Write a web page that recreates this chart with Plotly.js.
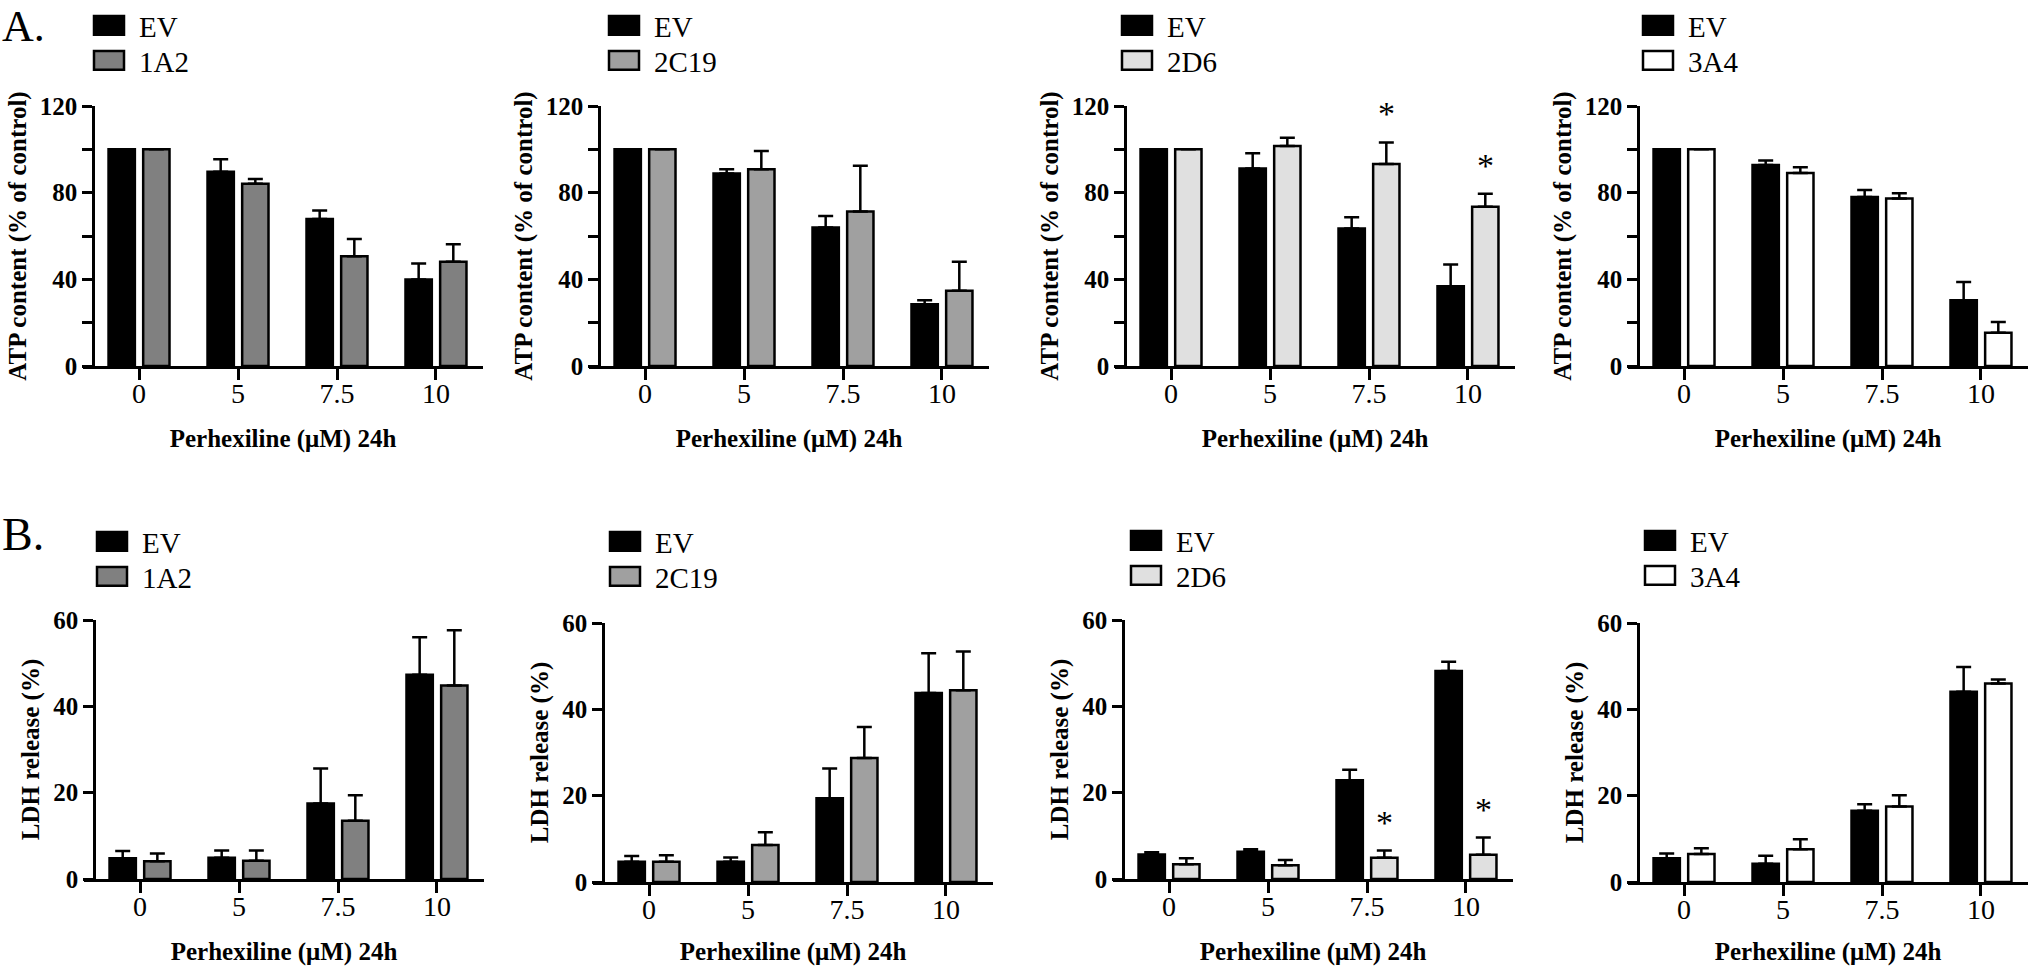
<!DOCTYPE html>
<html>
<head>
<meta charset="utf-8">
<script src="https://cdn.plot.ly/plotly-3.0.1.min.js"></script>
<style>html,body{margin:0;padding:0;background:#fff;}#chart{width:2029px;height:966px;}</style>
</head>
<body>
<div id="chart"></div>
<script>
// ---------- DATA ----------
const doses = ['0', '5', '7.5', '10'];
const isoforms = ['1A2', '2C19', '2D6', '3A4'];

// ATP content (% of control)
const atpEV_1A2   = [100, 89.7, 67.8, 39.9];
const atpEV_1A2Sd = [0, 5.7, 4.0, 7.4];
const atp1A2      = [100, 84.1, 50.7, 48.1];
const atp1A2Sd    = [0, 2.2, 7.9, 8.1];

const atpEV_2C19   = [100, 88.8, 63.9, 28.5];
const atpEV_2C19Sd = [0, 2.0, 5.3, 1.9];
const atp2C19      = [100, 90.8, 71.3, 34.7];
const atp2C19Sd    = [0, 8.4, 21.1, 13.4];

const atpEV_2D6   = [100, 91.1, 63.5, 36.8];
const atpEV_2D6Sd = [0, 7.1, 5.2, 10.0];
const atp2D6      = [100, 101.5, 93.2, 73.5];
const atp2D6Sd    = [0, 3.9, 10.0, 6.0];
const atp2D6Sig   = [false, false, true, true];

const atpEV_3A4   = [100, 92.8, 78.0, 30.4];
const atpEV_3A4Sd = [0, 2.0, 3.2, 8.4];
const atp3A4      = [100, 89.1, 77.3, 15.4];
const atp3A4Sd    = [0, 2.6, 2.4, 4.9];

// LDH release (%)
const ldhEV_1A2   = [4.8, 4.9, 17.5, 47.3];
const ldhEV_1A2Sd = [1.7, 1.7, 8.1, 8.7];
const ldh1A2      = [4.1, 4.2, 13.5, 44.8];
const ldh1A2Sd    = [1.8, 2.4, 5.9, 12.8];

const ldhEV_2C19   = [4.7, 4.7, 19.4, 43.8];
const ldhEV_2C19Sd = [1.3, 1.0, 6.9, 9.2];
const ldh2C19      = [4.7, 8.6, 28.7, 44.4];
const ldh2C19Sd    = [1.5, 2.9, 7.2, 9.0];

const ldhEV_2D6   = [5.7, 6.3, 22.9, 48.2];
const ldhEV_2D6Sd = [0.5, 0.6, 2.4, 2.1];
const ldh2D6      = [3.4, 3.2, 4.9, 5.6];
const ldh2D6Sd    = [1.4, 1.2, 1.7, 4.0];
const ldh2D6Sig   = [false, false, true, true];

const ldhEV_3A4   = [5.5, 4.2, 16.5, 44.1];
const ldhEV_3A4Sd = [1.1, 1.9, 1.5, 5.7];
const ldh3A4      = [6.5, 7.6, 17.5, 46.0];
const ldh3A4Sd    = [1.3, 2.3, 2.6, 0.9];

const atpTickVals = [0, 20, 40, 60, 80, 100, 120];
const atpTickText = ['0', '', '40', '', '80', '', '120'];
const ldhTickVals = [0, 20, 40, 60];
const ldhTickText = ['0', '20', '40', '60'];

const xTitle = 'Perhexiline (μM) 24h';
const atpTitle = 'ATP content (% of control)';
const ldhTitle = 'LDH release (%)';

// ---------- STYLE / LAYOUT CONFIG ----------
const W = 2029, H = 966;
const SERIF = 'Liberation Serif, Times New Roman, serif';
const colors = {EV: '#000000', '1A2': '#808080', '2C19': '#a0a0a0', '2D6': '#e0e0e0', '3A4': '#ffffff'};
const BARGAP = 0.3;
const LEGEND_ROW = 35;

const panels = [
  {row: 'A', iso: '1A2',  ev: atpEV_1A2,  evSd: atpEV_1A2Sd,  v: atp1A2,  vSd: atp1A2Sd,  sig: null,      yAxPx: 93,   top: 106, bot: 366, legX: 99,   legY: 0},
  {row: 'A', iso: '2C19', ev: atpEV_2C19, evSd: atpEV_2C19Sd, v: atp2C19, vSd: atp2C19Sd, sig: null,      yAxPx: 599,  top: 106, bot: 366, legX: 614,  legY: 0},
  {row: 'A', iso: '2D6',  ev: atpEV_2D6,  evSd: atpEV_2D6Sd,  v: atp2D6,  vSd: atp2D6Sd,  sig: atp2D6Sig, yAxPx: 1125, top: 106, bot: 366, legX: 1127, legY: 0},
  {row: 'A', iso: '3A4',  ev: atpEV_3A4,  evSd: atpEV_3A4Sd,  v: atp3A4,  vSd: atp3A4Sd,  sig: null,      yAxPx: 1638, top: 106, bot: 366, legX: 1648, legY: 0},
  {row: 'B', iso: '1A2',  ev: ldhEV_1A2,  evSd: ldhEV_1A2Sd,  v: ldh1A2,  vSd: ldh1A2Sd,  sig: null,      yAxPx: 94,   top: 620, bot: 879, legX: 102,  legY: 516},
  {row: 'B', iso: '2C19', ev: ldhEV_2C19, evSd: ldhEV_2C19Sd, v: ldh2C19, vSd: ldh2C19Sd, sig: null,      yAxPx: 603,  top: 623, bot: 882, legX: 615,  legY: 516},
  {row: 'B', iso: '2D6',  ev: ldhEV_2D6,  evSd: ldhEV_2D6Sd,  v: ldh2D6,  vSd: ldh2D6Sd,  sig: ldh2D6Sig, yAxPx: 1123, top: 620, bot: 879, legX: 1136, legY: 515},
  {row: 'B', iso: '3A4',  ev: ldhEV_3A4,  evSd: ldhEV_3A4Sd,  v: ldh3A4,  vSd: ldh3A4Sd,  sig: null,      yAxPx: 1638, top: 623, bot: 882, legX: 1650, legY: 515}
];

const traces = [];
const layout = {
  width: W, height: H,
  margin: {l: 0, r: 0, t: 0, b: 0},
  paper_bgcolor: '#ffffff', plot_bgcolor: 'rgba(0,0,0,0)',
  barmode: 'group', bargap: BARGAP, bargroupgap: 0.24,
  font: {family: SERIF, color: '#000000'},
  showlegend: true,
  annotations: []
};

function errY(sd) {
  return {type: 'data', symmetric: false, array: sd, arrayminus: sd.map(() => 0),
          color: '#000000', thickness: 2.5, width: 7.5};
}

panels.forEach((p, i) => {
  const n = i + 1;
  const xa = 'x' + (n === 1 ? '' : n), ya = 'y' + (n === 1 ? '' : n);
  const xKey = 'xaxis' + (n === 1 ? '' : n), yKey = 'yaxis' + (n === 1 ? '' : n);
  const legKey = 'legend' + (n === 1 ? '' : n);
  const isA = p.row === 'A';

  traces.push({
    type: 'bar', name: 'EV', x: doses, y: p.ev, xaxis: xa, yaxis: ya, legend: legKey,
    marker: {color: colors.EV, line: {color: '#000000', width: 2.5}},
    error_y: errY(p.evSd), hoverinfo: 'y'
  });
  traces.push({
    type: 'bar', name: p.iso, x: doses, y: p.v, xaxis: xa, yaxis: ya, legend: legKey,
    marker: {color: colors[p.iso], line: {color: '#000000', width: 2.5}},
    error_y: errY(p.vSd), hoverinfo: 'y'
  });

  layout[xKey] = {
    type: 'category', domain: [(p.yAxPx - 10) / W, (p.yAxPx + 390) / W],
    anchor: ya, range: [-0.566, 3.475],
    showline: true, linecolor: '#000000', linewidth: 2.5,
    ticks: 'outside', ticklen: 11, tickwidth: 2.5, tickcolor: '#000000',
    ticklabelstandoff: -10,
    showgrid: false, zeroline: false,
    tickfont: {family: SERIF, size: 28, color: '#000000'},
    title: {text: xTitle, font: {family: SERIF, size: 25, color: '#000000', weight: 'bold'}, standoff: 22},
    fixedrange: true
  };
  layout[yKey] = {
    domain: [1 - p.bot / H, 1 - p.top / H], anchor: 'free', position: p.yAxPx / W,
    range: isA ? [0, 120] : [0, 60],
    tickmode: 'array', tickvals: isA ? atpTickVals : ldhTickVals, ticktext: isA ? atpTickText : ldhTickText,
    showline: true, linecolor: '#000000', linewidth: 2.5,
    ticks: 'outside', ticklen: 10, tickwidth: 2.5, tickcolor: '#000000',
    showgrid: false, zeroline: false,
    tickfont: {family: SERIF, size: 25, color: '#000000', weight: 'bold'},
    title: {text: isA ? atpTitle : ldhTitle, font: {family: SERIF, size: 25, color: '#000000', weight: 'bold'}, standoff: 5},
    fixedrange: true
  };
  layout[legKey] = {
    x: p.legX / W, y: 1 - p.legY / H, xanchor: 'left', yanchor: 'top',
    bgcolor: 'rgba(0,0,0,0)', borderwidth: 0, traceorder: 'normal',
    font: {family: SERIF, size: 29, color: '#000000'}
  };

  if (p.sig) {
    const off = (1 - BARGAP) / 4;
    p.sig.forEach((s, k) => {
      if (!s) return;
      layout.annotations.push({
        xref: xa, yref: ya, x: k + off, y: p.v[k] + p.vSd[k],
        text: '*', showarrow: false, xanchor: 'center', yanchor: 'bottom', yshift: 8,
        font: {family: SERIF, size: 34, color: '#000000'}
      });
    });
  }
});

layout.annotations.push({xref: 'paper', yref: 'paper', x: 0, y: 1, xanchor: 'left', yanchor: 'top',
  text: 'A.', showarrow: false, font: {family: SERIF, size: 44, color: '#000000'}});
layout.annotations.push({xref: 'paper', yref: 'paper', x: 0, y: 1 - 534 / H, xanchor: 'left', yanchor: 'middle',
  text: 'B.', showarrow: false, font: {family: SERIF, size: 46, color: '#000000'}});

function styleLegends(gd) {
  gd.querySelectorAll('g.scrollbox').forEach(box => {
    box.removeAttribute('clip-path');
    const items = box.querySelectorAll('g.traces');
    if (items.length < 2) return;
    const re = /translate\(\s*([-\d.]+)[ ,]+([-\d.]+)\s*\)/;
    const m0 = re.exec(items[0].getAttribute('transform') || '');
    if (!m0) return;
    const y0 = parseFloat(m0[2]);
    items.forEach((it, k) => {
      const m = re.exec(it.getAttribute('transform') || '');
      if (!m) return;
      it.setAttribute('transform', 'translate(' + m[1] + ',' + (y0 + k * LEGEND_ROW) + ')');
    });
  });
  // widen the legend keys into the flat rectangles of the original figure
  gd.querySelectorAll('.legendpoints path').forEach(path => {
    if (path.dataset.wide) return;
    const t = path.getAttribute('transform') || '';
    path.setAttribute('transform', t + ' translate(-10,0) scale(2.5,1.55)');
    path.style.vectorEffect = 'non-scaling-stroke';
    path.dataset.wide = '1';
  });
}

Plotly.newPlot('chart', traces, layout, {displayModeBar: false, responsive: false}).then(gd => {
  styleLegends(gd);
  setTimeout(() => styleLegends(gd), 200);
});
</script>
</body>
</html>
